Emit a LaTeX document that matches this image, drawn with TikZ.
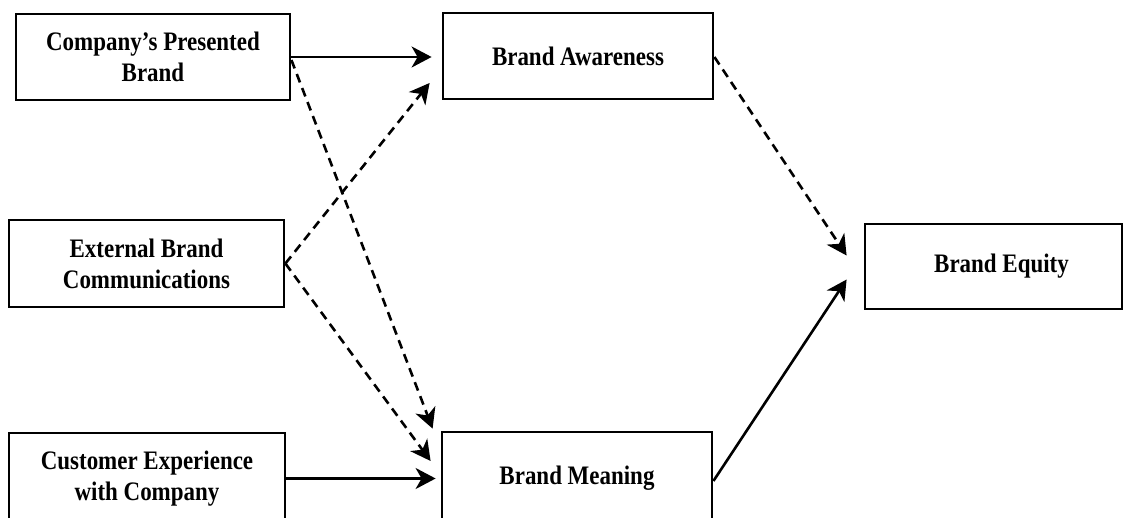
\documentclass[tikz,border=0pt]{standalone}
\usepackage{fontspec}
\setmainfont{Liberation Serif}[FakeStretch=0.86]
\usetikzlibrary{arrows.meta,calc}
\begin{document}
\begin{tikzpicture}[x=1pt,y=-1pt,
  boxnode/.style={draw,line width=2.8pt,inner sep=0pt,align=center,
    font=\fontsize{26.7}{31}\selectfont\bfseries},
  solidarrow/.style={line width=2.6pt,-{Stealth[length=20pt,width=21pt,inset=6pt]}},
  dasharrow/.style={line width=2.6pt,dash pattern=on 9pt off 6pt,-{Stealth[length=20pt,width=21pt,inset=6pt]}}]
\useasboundingbox (0,0) rectangle (1124,518);
\node[boxnode,minimum width=274pt,minimum height=86pt] (cp) at (153,57) {Company's Presented\\Brand};
\node[boxnode,minimum width=270pt,minimum height=86pt] (ba) at (578,56) {Brand Awareness};
\node[boxnode,minimum width=275pt,minimum height=87pt] (ext) at (146.5,263.5) {External Brand\\Communications};
\node[boxnode,minimum width=276pt,minimum height=91pt] (cu) at (147,478.5) {Customer Experience\\with Company};
\node[boxnode,minimum width=270pt,minimum height=92pt] (bm) at (577,478) {Brand Meaning};
\node[boxnode,minimum width=257pt,minimum height=85pt] (be) at (993.5,266.5) {\hspace*{16pt}Brand Equity};
\draw[solidarrow,shorten >=10pt] (cp.east) -- (cp.east -| ba.west);
\draw[dasharrow] ($(cp.east)+(0,3)$) -- ($(bm.north west)+(-8,-2)$);
\draw[dasharrow] (ext.east) -- ($(ba.west)+(-12,27)$);
\draw[dasharrow] (ext.east) -- ($(bm.west)+(-10,-17)$);
\draw[solidarrow,shorten >=5pt] (cu.east) -- (cu.east -| bm.west);
\draw[dasharrow] ($(ba.east)+(0,1)$) -- ($(be.west)+(-17,-11)$);
\draw[solidarrow] ($(bm.east)+(0,3)$) -- ($(be.west)+(-17,13)$);
\end{tikzpicture}
\end{document}
